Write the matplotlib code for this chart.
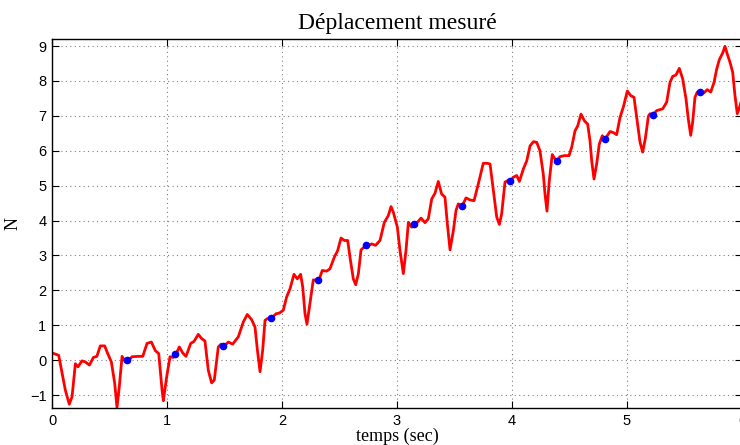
import matplotlib.pyplot as plt

t = [0.0, 0.058, 0.116, 0.15, 0.174, 0.203, 0.226, 0.26, 0.29, 0.325, 0.36, 0.39,
     0.42, 0.458, 0.478, 0.516, 0.545, 0.565, 0.585, 0.609, 0.638, 0.667, 0.696,
     0.754, 0.789, 0.826, 0.864, 0.899, 0.928, 0.957, 0.968, 0.997, 1.026, 1.055,
     1.078, 1.107, 1.136, 1.165, 1.206, 1.235, 1.272, 1.301, 1.33, 1.359, 1.388,
     1.411, 1.446, 1.47, 1.496, 1.533, 1.571, 1.62, 1.664, 1.698, 1.736, 1.765,
     1.786, 1.809, 1.832, 1.852, 1.872, 1.904, 1.948, 1.977, 2.011, 2.04, 2.07,
     2.104, 2.133, 2.162, 2.18, 2.2, 2.217, 2.243, 2.272, 2.296, 2.322, 2.35,
     2.388, 2.417, 2.455, 2.484, 2.513, 2.542, 2.571, 2.591, 2.62, 2.641, 2.664,
     2.687, 2.707, 2.736, 2.78, 2.814, 2.852, 2.89, 2.924, 2.948, 2.968, 3.003,
     3.026, 3.055, 3.078, 3.099, 3.128, 3.148, 3.177, 3.209, 3.243, 3.272, 3.302,
     3.33, 3.359, 3.388, 3.417, 3.438, 3.461, 3.49, 3.513, 3.533, 3.562, 3.6,
     3.635, 3.67, 3.707, 3.75, 3.785, 3.809, 3.838, 3.867, 3.89, 3.91, 3.939,
     3.96, 3.977, 4.012, 4.041, 4.064, 4.099, 4.128, 4.157, 4.186, 4.215, 4.243,
     4.272, 4.287, 4.304, 4.324, 4.35, 4.368, 4.391, 4.417, 4.455, 4.496, 4.519,
     4.548, 4.571, 4.6, 4.629, 4.658, 4.678, 4.693, 4.713, 4.736, 4.759, 4.785,
     4.809, 4.852, 4.881, 4.91, 4.939, 4.968, 5.003, 5.032, 5.061, 5.09, 5.113,
     5.136, 5.159, 5.186, 5.2, 5.22, 5.258, 5.31, 5.345, 5.374, 5.397, 5.426,
     5.455, 5.484, 5.513, 5.533, 5.554, 5.571, 5.591, 5.611, 5.635, 5.67, 5.698,
     5.728, 5.757, 5.78, 5.803, 5.832, 5.852, 5.872, 5.896, 5.919, 5.939, 5.959,
     5.983, 6.0]
n = [0.21, 0.14, -0.86, -1.26, -1.05, -0.1, -0.19, -0.02, -0.05, -0.14, 0.08, 0.11,
     0.41, 0.41, 0.24, -0.05, -0.66, -1.35, -0.76, 0.11, -0.05, 0.0, 0.1,
     0.11, 0.11, 0.48, 0.52, 0.27, 0.19, -0.86, -1.16, -0.48, 0.1, 0.08,
     0.17, 0.38, 0.21, 0.11, 0.48, 0.54, 0.74, 0.62, 0.55, -0.29, -0.65,
     -0.57, 0.38, 0.46, 0.4, 0.52, 0.46, 0.67, 1.1, 1.31, 1.16, 0.95,
     0.29, -0.33, 0.29, 1.14, 1.19, 1.19, 1.33, 1.35, 1.43, 1.81, 2.05,
     2.46, 2.33, 2.46, 2.1, 1.33, 1.03, 1.62, 2.3, 2.29, 2.3, 2.57,
     2.55, 2.62, 2.95, 3.14, 3.5, 3.43, 3.43, 2.95, 2.33, 2.16, 2.48,
     3.16, 3.22, 3.26, 3.33, 3.29, 3.43, 3.95, 4.14, 4.4, 4.24, 3.81,
     3.14, 2.48, 3.14, 3.95, 3.81, 3.86, 3.95, 4.07, 3.94, 4.05, 4.62,
     4.78, 5.12, 4.76, 4.67, 3.9, 3.16, 3.71, 4.29, 4.48, 4.38, 4.65,
     4.59, 4.57, 5.05, 5.64, 5.64, 5.62, 4.86, 4.1, 3.89, 4.19, 5.1,
     5.14, 5.1, 5.24, 5.29, 5.12, 5.48, 5.71, 6.14, 6.26, 6.24, 6.0,
     5.33, 4.76, 4.27, 5.14, 5.89, 5.79, 5.71, 5.83, 5.86, 5.86, 6.1,
     6.57, 6.71, 7.05, 6.86, 6.76, 6.29, 5.71, 5.19, 5.62, 6.19, 6.43,
     6.33, 6.55, 6.52, 6.46, 6.95, 7.25, 7.71, 7.58, 7.53, 6.82, 6.25,
     5.96, 6.34, 6.99, 7.06, 7.01, 7.15, 7.2, 7.39, 7.96, 8.13, 8.17,
     8.36, 8.06, 7.49, 6.91, 6.44, 6.82, 7.53, 7.68, 7.69, 7.66, 7.75,
     7.68, 7.96, 8.34, 8.61, 8.8, 8.99, 8.77, 8.53, 8.25, 7.58, 7.06,
     7.29, 7.5]

# sampled points (blue dots)
t_pts = [0.652, 1.07, 1.487, 1.904, 2.313, 2.73, 3.148, 3.565, 3.98, 4.39,
         4.81, 5.226, 5.635]
n_pts = [0.0, 0.17, 0.4, 1.2, 2.31, 3.29, 3.89, 4.43, 5.14, 5.71,
         6.34, 7.03, 7.69]

fig = plt.figure(figsize=(7.4, 4.45), dpi=100)
ax = fig.add_axes([0.0703, 0.0831, 0.9324, 0.8292])

ax.plot(t, n, color='red', linewidth=2.0, solid_joinstyle='round',
        solid_capstyle='round')
ax.plot(t_pts, n_pts, 'o', color='blue', markersize=4.5)

ax.set_xlim(0, 6)
ax.set_ylim(-1.37, 9.2)
ax.set_xticks(range(0, 7))
ax.set_yticks(range(-1, 10))
ax.set_yticklabels(['\u22121'] + [str(v) for v in range(0, 10)])
ax.grid(True, linestyle=(0, (1, 3)), color='#808080', linewidth=0.8)
ax.tick_params(direction='in', top=True, right=True, length=5,
               labelsize=10.5, pad=4)
for lab in ax.get_xticklabels() + ax.get_yticklabels():
    lab.set_family(['Liberation Sans', 'DejaVu Sans'])
for s in ax.spines.values():
    s.set_linewidth(1.0)

ax.set_title('Déplacement mesuré', family='Liberation Serif', fontsize=17, pad=7)
ax.set_xlabel('temps (sec)', family='Liberation Serif', fontsize=13, labelpad=0)
ax.set_ylabel('N', family='Liberation Serif', fontsize=13, labelpad=6)

fig.savefig('out.png', dpi=100)
